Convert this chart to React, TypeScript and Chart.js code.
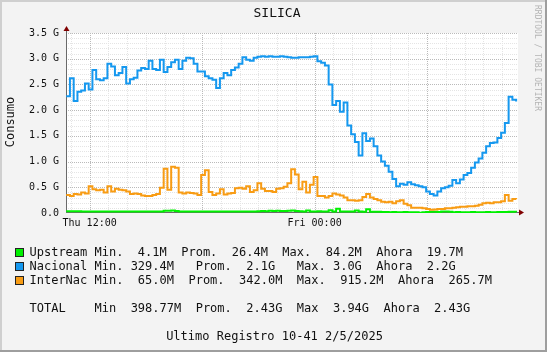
import React, { useEffect, useRef } from "react";
import { Chart, registerables } from "chart.js";

Chart.register(...registerables);

// ---- text ----
const chartTitle = "SILICA";
const yAxisTitle = "Consumo";
const watermark = "RRDTOOL / TOBI OETIKER";
const footerText = "Ultimo Registro 10-41 2/5/2025";

// ---- time axis (hours relative to Thu 12:00) ----
const startHour = -1.25;
const stepHours = 0.2;
const xMin = -1.26;
const xMax = 22.85;
const xTickHours = [0, 12];
const xTickLabels = ["Thu 12:00", "Fri 00:00"];

// ---- y axis (G) ----
const yMin = 0;
const yMax = 3.5;
const yStep = 0.5;

// ---- series (values in G, one sample every 12 min) ----
const seriesNames = ["Upstream", "Nacional", "InterNac"];
const seriesColors = ["#00f000", "#1598ef", "#f89c14"];

const upstream = [
  0.034, 0.034, 0.032, 0.034, 0.03, 0.028, 0.029, 0.028, 0.029, 0.028,
  0.029, 0.028, 0.027, 0.028, 0.029, 0.028, 0.028, 0.027, 0.028, 0.029,
  0.028, 0.028, 0.027, 0.028, 0.029, 0.03, 0.045, 0.042, 0.048, 0.04,
  0.029, 0.028, 0.028, 0.029, 0.028, 0.027, 0.028, 0.028, 0.029, 0.028,
  0.028, 0.029, 0.028, 0.028, 0.029, 0.03, 0.028, 0.028, 0.029, 0.028,
  0.029, 0.032, 0.04, 0.036, 0.042, 0.038, 0.045, 0.04, 0.037, 0.042,
  0.05, 0.04, 0.036, 0.03, 0.05, 0.028, 0.029, 0.032, 0.028, 0.03,
  0.055, 0.028, 0.084, 0.028, 0.03, 0.028, 0.027, 0.05, 0.027, 0.026,
  0.075, 0.025, 0.024, 0.022, 0.02, 0.018, 0.017, 0.018, 0.017, 0.016,
  0.018, 0.016, 0.015, 0.016, 0.0041, 0.016, 0.018, 0.024, 0.026, 0.018,
  0.028, 0.028, 0.026, 0.016, 0.018, 0.016, 0.017, 0.016, 0.018, 0.016,
  0.017, 0.016, 0.018, 0.017, 0.016, 0.018, 0.019, 0.02, 0.026, 0.024,
  0.0197,
];

const nacional = [
  2.27, 2.62, 2.18, 2.36, 2.38, 2.52, 2.40, 2.78, 2.60, 2.58,
  2.62, 2.90, 2.85, 2.68, 2.72, 2.84, 2.52, 2.60, 2.63, 2.77,
  2.82, 2.80, 2.96, 2.80, 2.78, 2.98, 2.74, 2.84, 2.93, 2.98,
  2.80, 2.96, 3.02, 3.01, 2.90, 2.75, 2.75, 2.66, 2.62, 2.59,
  2.43, 2.62, 2.72, 2.68, 2.78, 2.83, 2.90, 3.03, 2.98, 2.96,
  3.02, 3.04, 3.05, 3.04, 3.05, 3.04, 3.04, 3.05, 3.04, 3.03,
  3.02, 3.02, 3.03, 3.03, 3.03, 3.04, 3.05, 2.95, 2.92, 2.87,
  2.50, 2.10, 2.18, 1.97, 2.15, 1.70, 1.53, 1.38, 1.12, 1.55,
  1.40, 1.45, 1.30, 1.12, 1.00, 0.92, 0.80, 0.66, 0.52, 0.57,
  0.55, 0.60, 0.56, 0.54, 0.52, 0.50, 0.42, 0.37, 0.34, 0.42,
  0.48, 0.50, 0.53, 0.64, 0.58, 0.65, 0.74, 0.78, 0.88, 0.98,
  1.06, 1.17, 1.30, 1.36, 1.37, 1.46, 1.56, 1.75, 2.26, 2.20,
  2.17,
];

const internac = [
  0.35, 0.33, 0.37, 0.36, 0.40, 0.38, 0.52, 0.46, 0.44, 0.45,
  0.40, 0.52, 0.42, 0.47, 0.45, 0.44, 0.42, 0.37, 0.38, 0.37,
  0.34, 0.33, 0.33, 0.35, 0.37, 0.49, 0.86, 0.45, 0.90, 0.88,
  0.40, 0.38, 0.40, 0.39, 0.38, 0.35, 0.74, 0.83, 0.41, 0.35,
  0.38, 0.46, 0.36, 0.38, 0.39, 0.48, 0.49, 0.47, 0.52, 0.41,
  0.44, 0.58, 0.47, 0.43, 0.43, 0.41, 0.47, 0.48, 0.51, 0.58,
  0.85, 0.75, 0.46, 0.61, 0.40, 0.55, 0.70, 0.33, 0.33, 0.30,
  0.33, 0.38, 0.36, 0.34, 0.30, 0.25, 0.25, 0.24, 0.25, 0.31,
  0.37, 0.30, 0.27, 0.25, 0.22, 0.21, 0.22, 0.19, 0.23, 0.25,
  0.18, 0.15, 0.10, 0.10, 0.10, 0.09, 0.08, 0.065, 0.07, 0.08,
  0.08, 0.09, 0.09, 0.10, 0.11, 0.12, 0.12, 0.13, 0.13, 0.14,
  0.16, 0.19, 0.20, 0.19, 0.21, 0.21, 0.23, 0.35, 0.24, 0.27,
  0.266,
];

// ---- legend text ----
const legendStats = [
  "Min.  4.1M  Prom.  26.4M  Max.  84.2M  Ahora  19.7M",
  "Min. 329.4M   Prom.  2.1G   Max. 3.0G  Ahora  2.2G",
  "Min.  65.0M  Prom.  342.0M  Max.  915.2M  Ahora  265.7M",
];
const totalRow = "TOTAL    Min  398.77M  Prom.  2.43G  Max  3.94G  Ahora  2.43G";

const MONO = '"DejaVu Sans Mono", monospace';

const rrdPlugin = {
  id: "rrdLook",
  beforeDraw(chart: any) {
    const { ctx, chartArea: a, width, height } = chart;
    ctx.save();
    ctx.fillStyle = "#f3f3f3";
    ctx.fillRect(0, 0, width, height);
    ctx.fillStyle = "#cfcfcf";
    ctx.fillRect(0, 0, width, 2);
    ctx.fillRect(0, 0, 2, height);
    ctx.fillStyle = "#9e9e9e";
    ctx.fillRect(0, height - 2, width, 2);
    ctx.fillRect(width - 2, 0, 2, height);
    ctx.fillStyle = "#ffffff";
    ctx.fillRect(a.left, a.top, a.right - a.left, a.bottom - a.top);
    ctx.restore();
  },
  beforeDatasetsDraw(chart: any) {
    const { ctx, chartArea: a } = chart;
    const xs = chart.scales.x;
    const ys = chart.scales.y;
    ctx.save();
    ctx.lineWidth = 1;
    ctx.setLineDash([1, 1]);
    const hLine = (v: number) => {
      const py = Math.round(ys.getPixelForValue(v)) + 0.5;
      ctx.beginPath();
      ctx.moveTo(a.left, py);
      ctx.lineTo(a.right, py);
      ctx.stroke();
    };
    const vLine = (h: number) => {
      const px = Math.round(xs.getPixelForValue(h)) + 0.5;
      ctx.beginPath();
      ctx.moveTo(px, a.top);
      ctx.lineTo(px, a.bottom);
      ctx.stroke();
    };
    // minor grid
    ctx.strokeStyle = "#e4e4e4";
    for (let k = 1; k < 35; k++) if (k % 5 !== 0) hLine(k / 10);
    for (let h = Math.ceil(xMin); h <= xMax; h++) if (h % 6 !== 0) vLine(h);
    // major grid
    ctx.strokeStyle = "#bababa";
    for (let k = 1; k <= 7; k++) hLine(k * yStep);
    for (let h = Math.ceil(xMin); h <= xMax; h++) if (h % 6 === 0) vLine(h);

    // axes (under the data lines)
    ctx.setLineDash([]);
    const ax = Math.round(a.left) + 0.5;
    const ay = Math.round(a.bottom) - 0.5;
    ctx.strokeStyle = "#6a6a6a";
    ctx.beginPath();
    ctx.moveTo(ax, ay + 0.5);
    ctx.lineTo(ax, a.top - 2);
    ctx.moveTo(a.left, ay);
    ctx.lineTo(a.right + 1, ay);
    ctx.stroke();
    ctx.restore();
  },
  afterDraw(chart: any) {
    const { ctx, chartArea: a } = chart;
    ctx.save();
    ctx.setLineDash([]);
    const ax = Math.round(a.left) + 0.5;
    const ay = Math.round(a.bottom) - 0.5;
    // arrows
    ctx.fillStyle = "#800000";
    ctx.beginPath();
    ctx.moveTo(ax - 3, a.top - 2);
    ctx.lineTo(ax + 3, a.top - 2);
    ctx.lineTo(ax, a.top - 7);
    ctx.closePath();
    ctx.fill();
    ctx.beginPath();
    ctx.moveTo(a.right + 1, ay - 3);
    ctx.lineTo(a.right + 1, ay + 3);
    ctx.lineTo(a.right + 6, ay);
    ctx.closePath();
    ctx.fill();

    // title
    ctx.fillStyle = "#111";
    ctx.font = `13px ${MONO}`;
    ctx.textAlign = "center";
    ctx.textBaseline = "middle";
    ctx.fillText(chartTitle, 277, 14);

    // y axis title
    ctx.save();
    ctx.translate(11, 122);
    ctx.rotate(-Math.PI / 2);
    ctx.font = `12px ${MONO}`;
    ctx.fillText(yAxisTitle, 0, 0);
    ctx.restore();

    // watermark
    ctx.save();
    ctx.translate(537.5, 5);
    ctx.rotate(Math.PI / 2);
    ctx.font = `8px ${MONO}`;
    ctx.fillStyle = "#b4b4b4";
    ctx.textAlign = "left";
    ctx.fillText(watermark, 0, 0);
    ctx.restore();

    // legend
    ctx.font = `12px ${MONO}`;
    ctx.textAlign = "left";
    ctx.textBaseline = "middle";
    const rowY = [252.5, 266.5, 280.5];
    for (let i = 0; i < seriesNames.length; i++) {
      const y = rowY[i];
      ctx.fillStyle = seriesColors[i];
      ctx.fillRect(16, Math.round(y) - 4, 7, 7);
      ctx.strokeStyle = "#222";
      ctx.lineWidth = 1;
      ctx.strokeRect(15.5, Math.round(y) - 4.5, 8, 8);
      ctx.fillStyle = "#111";
      ctx.fillText(seriesNames[i] + " " + legendStats[i], 29.5, y);
    }
    ctx.fillText(totalRow, 29.5, 308.5);
    ctx.textAlign = "center";
    ctx.fillText(footerText, 274.5, 336.5);
    ctx.restore();
  },
};

export default function App() {
  const ref = useRef<HTMLCanvasElement>(null);
  useEffect(() => {
    const canvas = ref.current;
    if (!canvas) return;
    const times = nacional.map((_, i) => startHour + i * stepHours);
    const pts = (vals: number[]) => vals.map((v, i) => ({ x: times[i], y: v }));
    const seriesData = [upstream, nacional, internac];
    const drawOrder = [2, 1, 0];
    const chart = new Chart(canvas, {
      type: "line",
      data: {
        datasets: seriesNames.map((name, i) => ({
          label: name,
          data: pts(seriesData[i]),
          borderColor: seriesColors[i],
          backgroundColor: seriesColors[i],
          borderWidth: 2,
          pointRadius: 0,
          tension: 0,
          stepped: "before",
          fill: false,
          order: drawOrder[i],
        })),
      },
      options: {
        responsive: false,
        animation: false,
        devicePixelRatio: 1,
        layout: { padding: { top: 33, right: 29, bottom: 119, left: 0 } },
        plugins: {
          legend: { display: false },
          tooltip: { enabled: false },
          title: { display: false },
        },
        scales: {
          x: {
            type: "linear",
            min: xMin,
            max: xMax,
            grid: { display: false, drawTicks: false },
            border: { display: false },
            afterBuildTicks: (s: any) => {
              s.ticks = xTickHours.map((v) => ({ value: v }));
            },
            afterFit: (s: any) => {
              s.height = 20;
            },
            ticks: {
              autoSkip: false,
              maxRotation: 0,
              minRotation: 0,
              padding: 4,
              color: "#111",
              font: { family: MONO, size: 10 },
              callback: (v: any) => {
                const idx = xTickHours.indexOf(Number(v));
                return idx >= 0 ? xTickLabels[idx] : "";
              },
            },
          },
          y: {
            min: yMin,
            max: yMax,
            grid: { display: false, drawTicks: false },
            border: { display: false },
            afterFit: (s: any) => {
              s.width = 66;
            },
            ticks: {
              stepSize: yStep,
              padding: 7,
              color: "#111",
              font: { family: MONO, size: 10 },
              callback: (v: any) => (Number(v) === 0 ? "0.0" : Number(v).toFixed(1) + " G"),
            },
          },
        },
      },
      plugins: [rrdPlugin],
    } as any);
    return () => chart.destroy();
  }, []);
  return (
    <div style={{ position: "fixed", left: 0, top: 0, width: 547, height: 352 }}>
      <canvas ref={ref} width={547} height={352} style={{ display: "block", width: 547, height: 352 }} />
    </div>
  );
}
